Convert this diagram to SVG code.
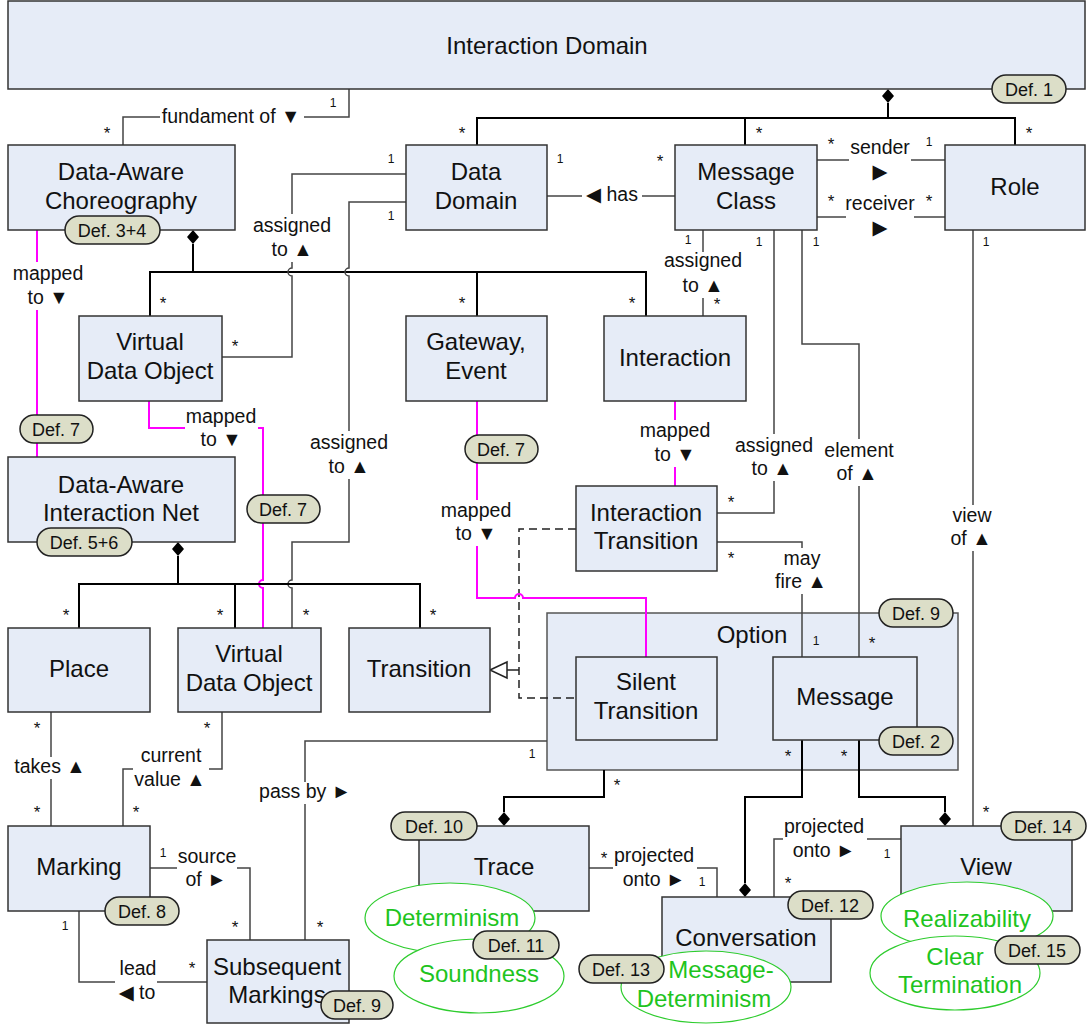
<svg xmlns="http://www.w3.org/2000/svg" width="1090" height="1026" viewBox="0 0 1090 1026">
<defs>
<style>
text{font-family:"Liberation Sans","DejaVu Sans",Arial,sans-serif;fill:#111;text-anchor:middle}
.t{font-size:24px}
.l{font-size:19.5px}
.m{font-size:17px}
.o{font-size:12px}
.box{fill:#e6ecf7;stroke:#333;stroke-width:1.5}
.c{fill:none;stroke:#444;stroke-width:1.5}
.k{fill:none;stroke:#000;stroke-width:2}
.p{fill:none;stroke:#ff00ff;stroke-width:2}
.dash{fill:none;stroke:#222;stroke-width:1.5;stroke-dasharray:8 5}
.dm{fill:#000;stroke:none}
.bg{fill:#fff;stroke:none}
.b rect{fill:#dcdec8;stroke:#222;stroke-width:1.5}
.b text{font-size:18px}
.e{fill:#fff;stroke:#2ecc2e;stroke-width:1.2}
.g{fill:#1ec41e}
</style>
</defs>
<rect width="1090" height="1026" fill="#fff"/>

<g id="option-frame"><rect class="box" x="547" y="613" width="411" height="157" style="stroke:#555"/></g>

<g id="connectors">
<path class="c" d="M349,89 V117 H123 V145"/>
<path class="k" d="M888,103 V118 M477,145 V118 H1015 V145 M745,118 V145"/>
<polygon class="dm" points="888,89 894,96 888,103 882,96"/>
<path class="c" d="M817,160 H945"/>
<path class="c" d="M817,217 H945"/>
<path class="c" d="M547,196 H675"/>
<path class="k" d="M193,244 V272 M150,316 V272 H646 V316 M477,272 V316"/>
<polygon class="dm" points="193,230 199,237 193,244 187,237"/>
<path class="c" d="M406,174 H292 V268 a4,4 0 0 0 0,8 V357 H222"/>
<path class="c" d="M406,202 H349 V268 a4,4 0 0 0 0,8 V542 H292 V580 a4,4 0 0 0 0,8 V628"/>
<path class="p" d="M37,230 V457"/>
<path class="p" d="M149,401 V428 H263 V580 a4,4 0 0 0 0,8 V628"/>
<path class="k" d="M178,556 V584 M79,628 V584 H420 V628 M235,584 V628"/>
<polygon class="dm" points="178,542 184,549 178,556 172,549"/>
<path class="c" d="M51,712 V826"/>
<path class="c" d="M222,712 V769 H123 V826"/>
<path class="c" d="M150,868 H250 V940"/>
<path class="c" d="M79,911 V982 H207"/>
<path class="c" d="M547,741 H305 V940"/>
<path class="dash" d="M576,529 H519 V698 H576"/>
<path class="p" d="M477,401 V598 H515 a4,4 0 0 1 8,0 H646 V657"/>
<path class="p" d="M675,401 V486"/>
<path class="c" d="M519,670 H507" style="stroke:#222"/>
<polygon points="490,670 507,662 507,678" fill="#fff" stroke="#222" stroke-width="1.5"/>
<path class="c" d="M703,230 V316"/>
<path class="c" d="M774,230 V513 H717"/>
<path class="c" d="M802,230 V344 H859 V657"/>
<path class="c" d="M717,542 H802 V657"/>
<path class="c" d="M973,230 V826"/>
<path class="k" d="M604,770 V797 H504 V812"/>
<polygon class="dm" points="504,812 510,819 504,826 498,819"/>
<path class="k" d="M802,740 V797 H745 V883"/>
<polygon class="dm" points="745,883 751,890 745,897 739,890"/>
<path class="k" d="M859,740 V797 H945 V812"/>
<polygon class="dm" points="945,812 951,819 945,826 939,819"/>
<path class="c" d="M589,868 H717 V897"/>
<path class="c" d="M774,897 V839 H901"/>

<rect class="bg" x="160" y="107" width="144" height="21"/>
<rect class="bg" x="14" y="262" width="68" height="48"/>
<rect class="bg" x="252" y="214" width="81" height="48"/>
<rect class="bg" x="309" y="431" width="81" height="48"/>
<rect class="bg" x="185" y="407" width="73" height="44"/>
<rect class="bg" x="440" y="500" width="73" height="46"/>
<rect class="bg" x="639" y="420" width="72" height="47"/>
<rect class="bg" x="663" y="252" width="81" height="46"/>
<rect class="bg" x="849" y="152" width="62" height="14"/>
<rect class="bg" x="846" y="209" width="68" height="14"/>
<rect class="bg" x="582" y="187" width="60" height="20"/>
<rect class="bg" x="734" y="434" width="80" height="47"/>
<rect class="bg" x="823" y="439" width="72" height="47"/>
<rect class="bg" x="775" y="548" width="53" height="46"/>
<rect class="bg" x="950" y="505" width="43" height="46"/>
<rect class="bg" x="13" y="757" width="74" height="22"/>
<rect class="bg" x="133" y="745" width="76" height="47"/>
<rect class="bg" x="261" y="782" width="88" height="22"/>
<rect class="bg" x="177" y="846" width="60" height="46"/>
<rect class="bg" x="115" y="958" width="42" height="46"/>
<rect class="bg" x="613" y="846" width="84" height="46"/>
<rect class="bg" x="783" y="817" width="84" height="46"/>

<text class="l" x="231" y="123">fundament of ▼</text>
<text class="l" x="48" y="280">mapped</text><text class="l" x="48" y="304">to ▼</text>
<text class="l" x="292" y="232">assigned</text><text class="l" x="292" y="256">to ▲</text>
<text class="l" x="349" y="449">assigned</text><text class="l" x="349" y="473">to ▲</text>
<text class="l" x="221" y="423">mapped</text><text class="l" x="221" y="446">to ▼</text>
<text class="l" x="476" y="517">mapped</text><text class="l" x="476" y="540">to ▼</text>
<text class="l" x="675" y="437">mapped</text><text class="l" x="675" y="461">to ▼</text>
<text class="l" x="703" y="267">assigned</text><text class="l" x="703" y="292">to ▲</text>
<text class="l" x="880" y="154">sender</text><text class="l" x="880" y="178">▶</text>
<text class="l" x="880" y="210">receiver</text><text class="l" x="880" y="234">▶</text>
<text class="l" x="612" y="201">◀ has</text>
<text class="l" x="774" y="452">assigned</text><text class="l" x="772" y="475">to ▲</text>
<text class="l" x="859" y="457">element</text><text class="l" x="857" y="480">of ▲</text>
<text class="l" x="802" y="565">may</text><text class="l" x="801" y="588">fire ▲</text>
<text class="l" x="972" y="522">view</text><text class="l" x="971" y="545">of ▲</text>
<text class="l" x="50" y="773">takes ▲</text>
<text class="l" x="171" y="762">current</text><text class="l" x="170" y="786">value ▲</text>
<text class="l" x="305" y="798">pass by ►</text>
<text class="l" x="207" y="863">source</text><text class="l" x="206" y="886">of ►</text>
<text class="l" x="138" y="975">lead</text><text class="l" x="137" y="999">◀ to</text>
<text class="l" x="654" y="862">projected</text><text class="l" x="654" y="886">onto ►</text>
<text class="l" x="824" y="833">projected</text><text class="l" x="824" y="857">onto ►</text>

<text class="m" x="107" y="139">*</text>
<text class="o" x="333" y="107">1</text>
<text class="m" x="462" y="139">*</text>
<text class="m" x="759" y="139">*</text>
<text class="m" x="1029" y="139">*</text>
<text class="m" x="831" y="150">*</text>
<text class="o" x="929" y="146">1</text>
<text class="m" x="831" y="207">*</text>
<text class="m" x="929" y="207">*</text>
<text class="o" x="560" y="163">1</text>
<text class="m" x="660" y="167">*</text>
<text class="o" x="391" y="163">1</text>
<text class="o" x="391" y="220">1</text>
<text class="m" x="163" y="309">*</text>
<text class="m" x="462" y="309">*</text>
<text class="m" x="632" y="309">*</text>
<text class="m" x="235" y="352">*</text>
<text class="o" x="688" y="244">1</text>
<text class="o" x="759" y="246">1</text>
<text class="o" x="816" y="246">1</text>
<text class="o" x="986" y="246">1</text>
<text class="m" x="717" y="310">*</text>
<text class="m" x="731" y="508">*</text>
<text class="m" x="731" y="564">*</text>
<text class="o" x="816" y="645">1</text>
<text class="m" x="872" y="649">*</text>
<text class="m" x="788" y="762">*</text>
<text class="m" x="844" y="762">*</text>
<text class="m" x="986" y="818">*</text>
<text class="m" x="617" y="791">*</text>
<text class="o" x="532" y="758">1</text>
<text class="m" x="66" y="621">*</text>
<text class="m" x="220" y="621">*</text>
<text class="m" x="306" y="621">*</text>
<text class="m" x="433" y="621">*</text>
<text class="m" x="37" y="734">*</text>
<text class="m" x="37" y="818">*</text>
<text class="m" x="207" y="734">*</text>
<text class="m" x="136" y="818">*</text>
<text class="o" x="163" y="857">1</text>
<text class="m" x="235" y="933">*</text>
<text class="m" x="320" y="933">*</text>
<text class="o" x="65" y="930">1</text>
<text class="m" x="192" y="974">*</text>
<text class="m" x="604" y="864">*</text>
<text class="o" x="702" y="886">1</text>
<text class="m" x="788" y="889">*</text>
<text class="o" x="887" y="858">1</text>
</g>

<g id="interaction-domain"><rect class="box" x="8" y="1" width="1077" height="88"/><text class="t" x="547" y="54">Interaction Domain</text></g>
<g id="dac"><rect class="box" x="8" y="145" width="227" height="85"/><text class="t" x="121" y="180">Data-Aware</text><text class="t" x="121" y="209">Choreography</text></g>
<g id="data-domain"><rect class="box" x="406" y="145" width="141" height="85"/><text class="t" x="476" y="180">Data</text><text class="t" x="476" y="209">Domain</text></g>
<g id="message-class"><rect class="box" x="675" y="145" width="142" height="85"/><text class="t" x="746" y="180">Message</text><text class="t" x="746" y="209">Class</text></g>
<g id="role"><rect class="box" x="945" y="145" width="140" height="85"/><text class="t" x="1015" y="195">Role</text></g>
<g id="vdo1"><rect class="box" x="79" y="316" width="143" height="85"/><text class="t" x="150" y="350">Virtual</text><text class="t" x="150" y="379">Data Object</text></g>
<g id="gateway"><rect class="box" x="406" y="316" width="141" height="85"/><text class="t" x="476" y="350">Gateway,</text><text class="t" x="476" y="379">Event</text></g>
<g id="interaction"><rect class="box" x="604" y="316" width="142" height="85"/><text class="t" x="675" y="366">Interaction</text></g>
<g id="interaction-transition"><rect class="box" x="576" y="486" width="141" height="85"/><text class="t" x="646" y="521">Interaction</text><text class="t" x="646" y="549">Transition</text></g>
<g id="dain"><rect class="box" x="8" y="457" width="227" height="85"/><text class="t" x="121" y="493">Data-Aware</text><text class="t" x="121" y="521">Interaction Net</text></g>
<g id="place"><rect class="box" x="8" y="628" width="142" height="84"/><text class="t" x="79" y="677">Place</text></g>
<g id="vdo2"><rect class="box" x="178" y="628" width="143" height="84"/><text class="t" x="249" y="662">Virtual</text><text class="t" x="249" y="691">Data Object</text></g>
<g id="transition"><rect class="box" x="349" y="628" width="141" height="84"/><text class="t" x="419" y="677">Transition</text></g>
<g id="option"><text class="t" x="752" y="643">Option</text></g>
<g id="silent-transition"><rect class="box" x="576" y="657" width="141" height="83"/><text class="t" x="646" y="690">Silent</text><text class="t" x="646" y="719">Transition</text></g>
<g id="message"><rect class="box" x="773" y="657" width="144" height="83"/><text class="t" x="845" y="705">Message</text></g>
<g id="marking"><rect class="box" x="8" y="826" width="142" height="85"/><text class="t" x="79" y="875">Marking</text></g>
<g id="subsequent-markings"><rect class="box" x="207" y="940" width="142" height="83"/><text class="t" x="277" y="975">Subsequent</text><text class="t" x="277" y="1003">Markings</text></g>
<g id="trace"><rect class="box" x="419" y="826" width="170" height="85"/><text class="t" x="504" y="875">Trace</text></g>
<g id="conversation"><rect class="box" x="662" y="897" width="169" height="85"/><text class="t" x="746" y="946">Conversation</text></g>
<g id="view"><rect class="box" x="901" y="826" width="171" height="85"/><text class="t" x="986" y="875">View</text></g>

<g id="determinism"><ellipse class="e" cx="450" cy="918" rx="85" ry="35"/><text class="t g" x="452" y="926">Determinism</text></g>
<g id="soundness"><ellipse class="e" cx="479" cy="976" rx="85" ry="37"/><text class="t g" x="479" y="982">Soundness</text></g>
<g id="message-determinism"><ellipse class="e" cx="706" cy="987" rx="85" ry="36"/><text class="t g" x="721" y="978">Message-</text><text class="t g" x="704" y="1007">Determinism</text></g>
<g id="realizability"><ellipse class="e" cx="967" cy="916" rx="86" ry="34"/><text class="t g" x="967" y="927">Realizability</text></g>
<g id="clear-termination"><ellipse class="e" cx="955" cy="973" rx="85" ry="37"/><text class="t g" x="955" y="965">Clear</text><text class="t g" x="960" y="993">Termination</text></g>

<g id="badges">
<g class="b"><rect x="992" y="75" width="74" height="28" rx="14"/><text x="1029" y="95.5">Def. 1</text></g>
<g class="b"><rect x="65" y="216" width="95" height="28" rx="14"/><text x="112" y="236.5">Def. 3+4</text></g>
<g class="b"><rect x="20" y="415" width="73" height="28" rx="14"/><text x="56" y="435.5">Def. 7</text></g>
<g class="b"><rect x="37" y="528" width="95" height="28" rx="14"/><text x="84" y="548.5">Def. 5+6</text></g>
<g class="b"><rect x="247" y="495" width="73" height="28" rx="14"/><text x="283" y="515.5">Def. 7</text></g>
<g class="b"><rect x="465" y="435" width="73" height="28" rx="14"/><text x="501" y="455.5">Def. 7</text></g>
<g class="b"><rect x="879" y="599" width="74" height="28" rx="14"/><text x="916" y="619.5">Def. 9</text></g>
<g class="b"><rect x="879" y="727" width="74" height="28" rx="14"/><text x="916" y="747.5">Def. 2</text></g>
<g class="b"><rect x="105" y="897" width="74" height="28" rx="14"/><text x="142" y="917.5">Def. 8</text></g>
<g class="b"><rect x="321" y="991" width="72" height="28" rx="14"/><text x="357" y="1011.5">Def. 9</text></g>
<g class="b"><rect x="391" y="812" width="86" height="28" rx="14"/><text x="434" y="832.5">Def. 10</text></g>
<g class="b"><rect x="473" y="931" width="86" height="28" rx="14"/><text x="516" y="951.5">Def. 11</text></g>
<g class="b"><rect x="579" y="955" width="85" height="28" rx="14"/><text x="621" y="975.5">Def. 13</text></g>
<g class="b"><rect x="788" y="891" width="85" height="28" rx="14"/><text x="830" y="911.5">Def. 12</text></g>
<g class="b"><rect x="1001" y="812" width="85" height="28" rx="14"/><text x="1043" y="832.5">Def. 14</text></g>
<g class="b"><rect x="995" y="936" width="85" height="28" rx="14"/><text x="1037" y="956.5">Def. 15</text></g>
</g>
</svg>
